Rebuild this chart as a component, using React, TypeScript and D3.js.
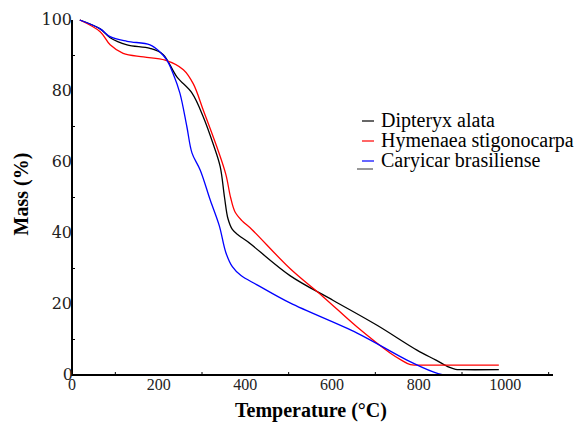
import React from "react";
import * as d3 from "d3";

const dipteryxT = [18, 65, 88, 127, 180, 210, 242, 277, 303, 326, 342, 352, 360, 370, 385, 405, 503, 603, 704, 796, 840, 870, 885, 900, 985];
const dipteryxM = [100, 97.5, 95, 93, 92, 90.3, 84, 79.4, 72.7, 65, 58.7, 50, 44, 41, 39.3, 37.6, 28, 21, 14, 7, 4.2, 2.2, 1.6, 1.5, 1.5];

const hymenaeaT = [18, 65, 88, 118, 165, 215, 257, 280, 303, 335, 355, 366, 376, 392, 415, 503, 580, 658, 734, 760, 781, 800, 900, 985];
const hymenaeaM = [100, 96.7, 93, 90.6, 89.6, 88.7, 86, 82, 74.6, 64, 56.5, 50, 46, 43.5, 41, 30, 22, 13.5, 6.2, 4.2, 2.9, 2.8, 2.8, 2.8];

const caryicarT = [18, 65, 88, 127, 180, 203, 219, 233, 249, 265, 277, 296, 319, 340, 355, 370, 390, 427, 503, 658, 773, 835, 857];
const caryicarM = [100, 97.5, 95.3, 94, 93, 91, 88.7, 85, 79.4, 70, 62.5, 57.7, 49.3, 42, 34.5, 30.5, 28, 25.4, 20.3, 11.8, 4.2, 0.8, 0];

const seriesNames = ["Dipteryx alata", "Hymenaea stigonocarpa", "Caryicar brasiliense"];
const seriesColors = ["#000000", "#ff0000", "#0000ff"];

const xMajor = [0, 200, 400, 600, 800, 1000];
const xMinor = [100, 300, 500, 700, 900, 1100];
const yMajor = [0, 20, 40, 60, 80, 100];
const yMinor = [10, 30, 50, 70, 90];

const W = 588;
const H = 423;

const App = () => {
  const x = d3.scaleLinear().domain([0, 1110]).range([72, 553]);
  const y = d3.scaleLinear().domain([0, 100]).range([375, 20]);

  const series = [
    dipteryxT.map((t, i) => [t, dipteryxM[i]]),
    hymenaeaT.map((t, i) => [t, hymenaeaM[i]]),
    caryicarT.map((t, i) => [t, caryicarM[i]]),
  ];

  const line = d3
    .line<number[]>()
    .x((d) => x(d[0]))
    .y((d) => y(d[1]))
    .curve(d3.curveCatmullRom.alpha(0.5));

  return (
    <svg
      width={W}
      height={H}
      style={{ position: "absolute", left: 0, top: 0, background: "#fff" }}
    >
      {series.map((s, i) => (
        <path key={i} d={line(s) || ""} fill="none" stroke={seriesColors[i]} strokeWidth={1.3} />
      ))}

      {/* axes */}
      <line x1={72} x2={72} y1={y(100)} y2={y(0)} stroke="#000" strokeWidth={2} />
      <line x1={71} x2={x(1110)} y1={y(0)} y2={y(0)} stroke="#000" strokeWidth={2} />
      {xMinor.map((t) => (
        <line key={t} x1={x(t)} x2={x(t)} y1={y(0)} y2={y(0) - 3} stroke="#000" strokeWidth={1} />
      ))}
      {yMinor.map((v) => (
        <line key={v} x1={72} x2={75} y1={y(v)} y2={y(v)} stroke="#000" strokeWidth={1} />
      ))}
      {xMajor.map((t) => (
        <text key={t} x={x(t)} y={y(0) + 15} textAnchor="middle" fontSize={16} fill="#222" fontFamily="Liberation Serif">
          {t}
        </text>
      ))}
      {yMajor.map((v) => (
        <text key={v} x={v === 0 ? 73 : 72} y={y(v) + 5} textAnchor="end" fontSize={16} fill="#222" fontFamily="DejaVu Serif">
          {v}
        </text>
      ))}

      <text x={311} y={417} textAnchor="middle" fontSize={20} fontWeight="bold" fontFamily="serif">
        Temperature (°C)
      </text>
      <text
        transform={`translate(28,194) rotate(-90)`}
        textAnchor="middle"
        fontSize={20}
        fontWeight="bold"
        fontFamily="Times New Roman"
      >
        Mass (%)
      </text>

      {/* legend */}
      {seriesNames.map((n, i) => (
        <g key={n} transform={`translate(362,${121 + i * 20})`}>
          <line x1={0} x2={12} y1={0} y2={0} stroke={seriesColors[i]} strokeWidth={1.2} />
          <text x={19} y={6} fontSize={20} fontFamily="Liberation Serif">
            {n}
          </text>
        </g>
      ))}
      <line x1={357} x2={373} y1={169} y2={169} stroke="#333" strokeWidth={1} />
    </svg>
  );
};

export default App;
